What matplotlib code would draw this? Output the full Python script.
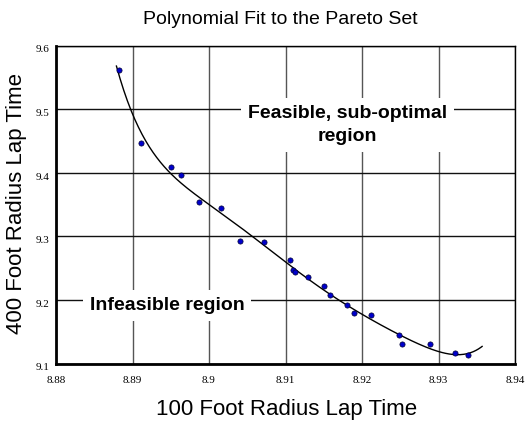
import numpy as np
import matplotlib
matplotlib.use("Agg")
import matplotlib.pyplot as plt

# Pareto set points
x_pts = [8.8882, 8.8911, 8.8950, 8.8963, 8.8987, 8.9016, 8.9040, 8.9072,
         8.9106, 8.9110, 8.9113, 8.9129, 8.9150, 8.9158, 8.9180, 8.9190,
         8.9212, 8.9249, 8.9252, 8.9289, 8.9321, 8.9339]
y_pts = [9.561, 9.446, 9.409, 9.397, 9.354, 9.344, 9.293, 9.291,
         9.262, 9.247, 9.244, 9.236, 9.222, 9.208, 9.192, 9.179,
         9.176, 9.145, 9.131, 9.130, 9.117, 9.113]

fit_degree = 6
fit_x_range = [8.8879, 8.9357]

x_ticks = [8.88, 8.89, 8.90, 8.91, 8.92, 8.93, 8.94]
x_tick_labels = ["8.88", "8.89", "8.9", "8.91", "8.92", "8.93", "8.94"]
y_ticks = [9.1, 9.2, 9.3, 9.4, 9.5, 9.6]
y_tick_labels = ["9.1", "9.2", "9.3", "9.4", "9.5", "9.6"]

W, H = 527, 422
fig = plt.figure(figsize=(W/100, H/100), dpi=100)
ax = fig.add_axes([56/W, 1 - 363.5/H, 459/W, 318/H])

# polynomial fit
xc = np.array(x_pts) - 8.91
coef = np.polyfit(xc, np.array(y_pts), fit_degree)
xs = np.linspace(fit_x_range[0], fit_x_range[1], 300)
ys = np.polyval(coef, xs - 8.91)
ax.plot(xs, ys, color="black", lw=1.0, zorder=3)

ax.scatter(x_pts, y_pts, s=14, color="#0000cc", edgecolors="#000033",
           linewidths=0.5, zorder=4)

ax.set_xlim(8.88, 8.94)
ax.set_ylim(9.1, 9.6)
ax.set_xticks(x_ticks)
ax.set_xticklabels(x_tick_labels)
ax.set_yticks(y_ticks)
ax.set_yticklabels(y_tick_labels)
ax.tick_params(length=0, labelsize=8)
ax.tick_params(axis="x", pad=9)
ax.tick_params(axis="y", pad=5)
for lab in ax.get_xticklabels() + ax.get_yticklabels():
    lab.set_family("Liberation Serif")
for lab in ax.get_yticklabels():
    lab.set_va("top")
ax.xaxis.grid(True, color="#555555", lw=1.0)
ax.yaxis.grid(True, color="#111111", lw=1.0)
ax.set_axisbelow(True)

for side in ["top", "right"]:
    ax.spines[side].set_linewidth(1.0)
for side in ["left", "bottom"]:
    ax.spines[side].set_linewidth(2.0)

sans = "Liberation Sans"
fig.text(280/W, 1 - 20/H, "Polynomial Fit to the Pareto Set", family=sans,
         fontsize=14, ha="center", va="center")
fig.text(287/W, 1 - 409/H, "100 Foot Radius Lap Time", family=sans,
         fontsize=16, ha="center", va="center")
fig.text(17/W, 1 - 204/H, "400 Foot Radius Lap Time", family=sans,
         fontsize=16, ha="center", va="center", rotation=90)

ax.text(8.9181, 9.475, "Feasible, sub-optimal\nregion", ha="center", va="center",
        family=sans, fontsize=14, fontweight="bold", linespacing=1.45,
        bbox=dict(facecolor="white", edgecolor="none", pad=5), zorder=5)
ax.text(8.8945, 9.191, "Infeasible region", ha="center", va="center",
        family=sans, fontsize=14, fontweight="bold",
        bbox=dict(facecolor="white", edgecolor="none", pad=5), zorder=5)

fig.savefig("out.png", dpi=100)
